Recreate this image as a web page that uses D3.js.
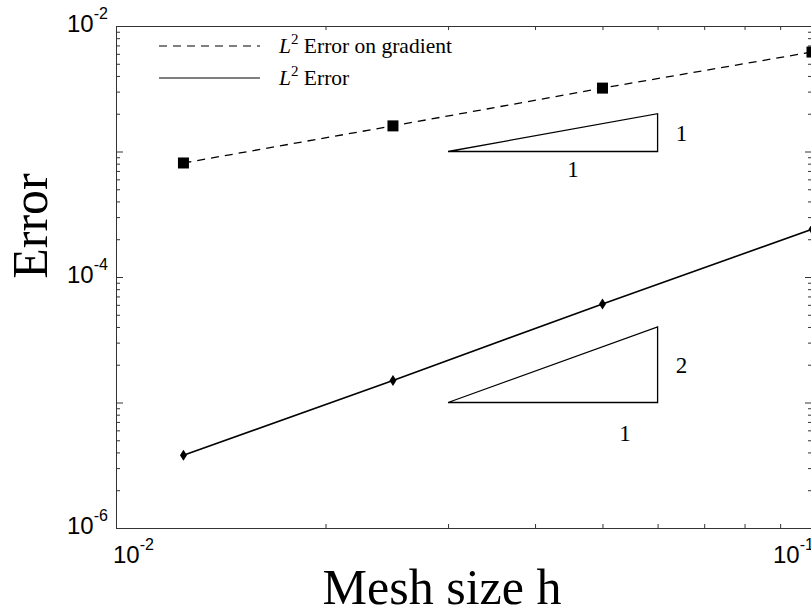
<!DOCTYPE html>
<html>
<head>
<meta charset="utf-8">
<script src="https://cdn.jsdelivr.net/npm/d3@7"></script>
<style>
  body { margin: 0; background: #fff; }
  svg { display: block; }
  .axis path, .axis line { stroke: #333; stroke-width: 1; }
</style>
</head>
<body>
<div id="chart"></div>
<script>
// mesh sizes and measured errors
var meshSize = [0.0125, 0.025, 0.05, 0.1];
var gradError = [8.1e-4, 1.6e-3, 3.2e-3, 6.2e-3];
var l2Error = [3.8e-6, 1.5e-5, 6.1e-5, 2.4e-4];

// slope triangles: base from h0 to h1 at level e0
var triH = [0.03, 0.06];
var triBase = [1e-3, 1e-5];
var triSlope = [1, 2];

var xMajor = [0.01, 0.1];
var yMajor = [1e-2, 1e-3, 1e-4, 1e-5, 1e-6];
var yLabelled = [1e-2, 1e-4, 1e-6];

var width = 811, height = 615;
var pLeft = 116, pRight = 812, pTop = 26, pBottom = 528;

var svg = d3.select("#chart").append("svg")
  .attr("width", width).attr("height", height);

var x = d3.scaleLog().domain([0.01, 0.1]).range([pLeft, pRight]);
var y = d3.scaleLog().domain([1e-6, 1e-2]).range([pBottom, pTop]);

function minors(lo, hi) {
  var out = [];
  for (var d = lo; d < hi * 0.999; d *= 10)
    for (var k = 2; k <= 9; k++) out.push(d * k);
  return out;
}
var xMinor = minors(0.01, 0.1);
var yMinor = minors(1e-6, 1e-2);

// box + ticks (pointing inward)
function addAxis(axis, tx, ty) {
  svg.append("g").attr("class", "axis")
    .attr("transform", "translate(" + tx + "," + ty + ")")
    .call(axis)
    .call(function (g) { g.selectAll("text").remove(); });
}
var none = function () { return ""; };
addAxis(d3.axisBottom(x).tickValues(xMajor).tickSize(-7).tickSizeOuter(0).tickFormat(none), 0, pBottom);
addAxis(d3.axisBottom(x).tickValues(xMinor).tickSize(-4).tickSizeOuter(0).tickFormat(none), 0, pBottom);
addAxis(d3.axisTop(x).tickValues(xMajor).tickSize(-7).tickSizeOuter(0).tickFormat(none), 0, pTop);
addAxis(d3.axisTop(x).tickValues(xMinor).tickSize(-4).tickSizeOuter(0).tickFormat(none), 0, pTop);
addAxis(d3.axisLeft(y).tickValues(yMajor).tickSize(-7).tickSizeOuter(0).tickFormat(none), pLeft, 0);
addAxis(d3.axisLeft(y).tickValues(yMinor).tickSize(-4).tickSizeOuter(0).tickFormat(none), pLeft, 0);
addAxis(d3.axisRight(y).tickValues(yMajor).tickSize(-7).tickSizeOuter(0).tickFormat(none), pRight, 0);
addAxis(d3.axisRight(y).tickValues(yMinor).tickSize(-4).tickSizeOuter(0).tickFormat(none), pRight, 0);

// tick labels as 10^n
function expLabel(g, v) {
  var t = g.append("text").attr("font-family", "Liberation Sans, Arial, sans-serif").attr("fill", "#000");
  t.append("tspan").attr("font-size", 24).text("10");
  t.append("tspan").attr("font-size", 16).attr("dy", -13).text(Math.round(Math.log10(v)));
  return t;
}
xMajor.forEach(function (v, i) {
  var px = i === 0 ? x(v) - 3 : x(v) - 39;
  expLabel(svg.append("g"), v).attr("x", px).attr("y", 563);
});
yLabelled.forEach(function (v) {
  expLabel(svg.append("g"), v).attr("x", 67).attr("y", y(v) + 6);
});

// data lines
var line = d3.line().x(function (d) { return x(d[0]); }).y(function (d) { return y(d[1]); });
var gradPts = meshSize.map(function (h, i) { return [h, gradError[i]]; });
var l2Pts = meshSize.map(function (h, i) { return [h, l2Error[i]]; });

svg.append("path").datum(gradPts).attr("d", line)
  .attr("fill", "none").attr("stroke", "#000").attr("stroke-width", 1.3).attr("stroke-dasharray", "8,6");
svg.append("path").datum(l2Pts).attr("d", line)
  .attr("fill", "none").attr("stroke", "#000").attr("stroke-width", 1.6);

svg.selectAll("rect.sq").data(gradPts).enter().append("rect").attr("class", "sq")
  .attr("x", function (d) { return x(d[0]) - 5.5; })
  .attr("y", function (d) { return y(d[1]) - 5.5; })
  .attr("width", 11).attr("height", 11).attr("fill", "#000");

svg.selectAll("path.dm").data(l2Pts).enter().append("path").attr("class", "dm")
  .attr("d", function (d) {
    var cx = x(d[0]), cy = y(d[1]);
    return "M" + cx + "," + (cy - 5.5) + "L" + (cx + 3.5) + "," + cy + "L" + cx + "," + (cy + 5.5) + "L" + (cx - 3.5) + "," + cy + "Z";
  })
  .attr("fill", "#000");

// slope triangles
var serif = "Liberation Serif, Times New Roman, serif";
triBase.forEach(function (e0, i) {
  var e1 = e0 * Math.pow(triH[1] / triH[0], triSlope[i]);
  var pts = [[triH[0], e0], [triH[1], e0], [triH[1], e1]];
  svg.append("path").datum(pts).attr("d", function (d) { return line(d) + "Z"; })
    .attr("fill", "none").attr("stroke", "#000").attr("stroke-width", 1.3);
  var midY = Math.sqrt(e0 * e1);
  svg.append("text").attr("font-family", serif).attr("font-size", 23)
    .attr("x", x(triH[1]) + 24).attr("y", y(midY) + 8).attr("text-anchor", "middle").text(triSlope[i]);
  var bx = i === 0 ? 573 : 625;
  svg.append("text").attr("font-family", serif).attr("font-size", 23)
    .attr("x", bx).attr("y", y(e0) + (i === 0 ? 25 : 38)).attr("text-anchor", "middle").text("1");
});

// legend
var legend = [
  { label: "Error on gradient", dash: "8,6", yy: 46 },
  { label: "Error", dash: null, yy: 78 }
];
legend.forEach(function (d) {
  svg.append("line").attr("x1", 159).attr("x2", 260).attr("y1", d.yy).attr("y2", d.yy)
    .attr("stroke", "#000").attr("stroke-width", 1.2).attr("stroke-dasharray", d.dash);
  var t = svg.append("text").attr("font-family", serif).attr("font-size", 21.5)
    .attr("x", 279).attr("y", d.yy + 7);
  t.append("tspan").attr("font-style", "italic").text("L");
  t.append("tspan").attr("font-size", 15).attr("dy", -9).text("2");
  t.append("tspan").attr("dy", 9).text(" " + d.label);
});

// axis titles
svg.append("text").attr("font-family", serif).attr("font-size", 50)
  .attr("text-anchor", "middle").attr("x", 442).attr("y", 604).text("Mesh size h");
svg.append("text").attr("font-family", serif).attr("font-size", 50)
  .attr("text-anchor", "middle").attr("transform", "translate(47,226) rotate(-90)").text("Error");
</script>
</body>
</html>
